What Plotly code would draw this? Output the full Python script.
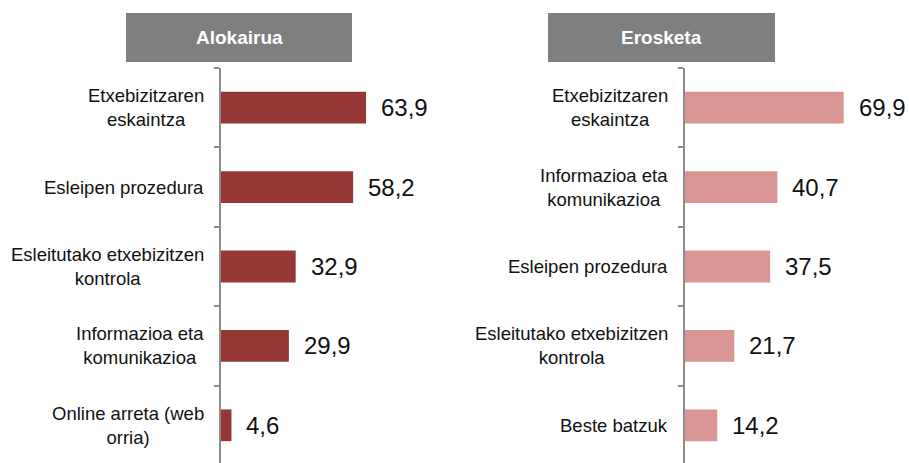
import plotly.graph_objects as go

# Rental (Alokairua) panel
rent_labels = [
    "Etxebizitzaren<br>eskaintza",
    "Esleipen prozedura",
    "Esleitutako etxebizitzen<br>kontrola",
    "Informazioa eta<br>komunikazioa",
    "Online arreta (web<br>orria)",
]
rent_values = [63.9, 58.2, 32.9, 29.9, 4.6]

# Purchase (Erosketa) panel
buy_labels = [
    "Etxebizitzaren<br>eskaintza",
    "Informazioa eta<br>komunikazioa",
    "Esleipen prozedura",
    "Esleitutako etxebizitzen<br>kontrola",
    "Beste batzuk",
]
buy_values = [69.9, 40.7, 37.5, 21.7, 14.2]

panel_titles = ["Alokairua", "Erosketa"]

W, H = 909, 463
FONT = "Liberation Sans, Arial, sans-serif"
RENT_COLOR = "#953735"
BUY_COLOR = "#D99694"
AXIS_COLOR = "#8C8C8C"

PX_PER_UNIT = 2.27
left_axis_px = 221
right_axis_px = 685
left_range = 100
right_range = 90

y_top_px = 68
y_dom = [0, (H - y_top_px) / H]
cat_px = 79.4
span_cats = (H - y_top_px) / cat_px
y_range = [-0.5 + span_cats, -0.5]

fig = go.Figure()
fig.add_trace(go.Bar(
    x=rent_values, y=rent_labels, orientation="h",
    marker=dict(color=RENT_COLOR, line=dict(width=0)),
    xaxis="x", yaxis="y", hoverinfo="skip", cliponaxis=False,
))
fig.add_trace(go.Bar(
    x=buy_values, y=buy_labels, orientation="h",
    marker=dict(color=BUY_COLOR, line=dict(width=0)),
    xaxis="x2", yaxis="y2", hoverinfo="skip", cliponaxis=False,
))

xaxis_common = dict(showgrid=False, zeroline=False, showticklabels=False,
                    showline=False, ticks="", fixedrange=True)
yaxis_common = dict(showgrid=False, zeroline=False, showticklabels=False,
                    showline=True, linecolor=AXIS_COLOR, linewidth=2,
                    ticks="outside", ticklen=5, tickwidth=1.5,
                    tickcolor=AXIS_COLOR, tickson="boundaries",
                    domain=y_dom, range=y_range, fixedrange=True)

fig.update_layout(
    width=W, height=H,
    margin=dict(l=0, r=0, t=0, b=0),
    paper_bgcolor="white", plot_bgcolor="white",
    showlegend=False, bargap=0.6,
    font=dict(family=FONT, color="#111111"),
    xaxis=dict(domain=[left_axis_px / W, (left_axis_px + PX_PER_UNIT * left_range) / W],
               range=[0, left_range], anchor="y", **xaxis_common),
    xaxis2=dict(domain=[right_axis_px / W, (right_axis_px + PX_PER_UNIT * right_range) / W],
                range=[0, right_range], anchor="y2", **xaxis_common),
    yaxis=dict(anchor="x", **yaxis_common),
    yaxis2=dict(anchor="x2", **yaxis_common),
)

annotations = []
# Category labels, centred text blocks to the left of each axis
for labels, axis_px, yref in [(rent_labels, left_axis_px, "y"), (buy_labels, right_axis_px, "y2")]:
    for lab in labels:
        annotations.append(dict(
            x=(axis_px - 15) / W, xref="paper", xanchor="right",
            y=lab, yref=yref, yanchor="middle", align="center",
            text=lab, showarrow=False,
            font=dict(family=FONT, size=18.5, color="#111111"),
        ))

# Value labels at the end of each bar
for labels, values, xref, yref in [(rent_labels, rent_values, "x", "y"),
                                    (buy_labels, buy_values, "x2", "y2")]:
    for lab, v in zip(labels, values):
        annotations.append(dict(
            x=v, xref=xref, xanchor="left", xshift=13,
            y=lab, yref=yref, yanchor="middle",
            text=f"{v:.1f}".replace(".", ","), showarrow=False,
            font=dict(family=FONT, size=24, color="#111111"),
        ))

# Panel header boxes
shapes = []
for title, (x0, x1) in zip(panel_titles, [(126, 352), (548, 775)]):
    shapes.append(dict(type="rect", xref="paper", yref="paper",
                       x0=x0 / W, x1=x1 / W, y0=(H - 62) / H, y1=(H - 13) / H,
                       fillcolor="#7F7F7F", line=dict(width=0), layer="below"))
    annotations.append(dict(
        x=(x0 + x1) / 2 / W, xref="paper", xanchor="center",
        y=(H - 37.5) / H, yref="paper", yanchor="middle",
        text=f"<b>{title}</b>", showarrow=False,
        font=dict(family=FONT, size=19, color="white"),
    ))

fig.update_layout(annotations=annotations, shapes=shapes)

fig.write_html("out.html")
